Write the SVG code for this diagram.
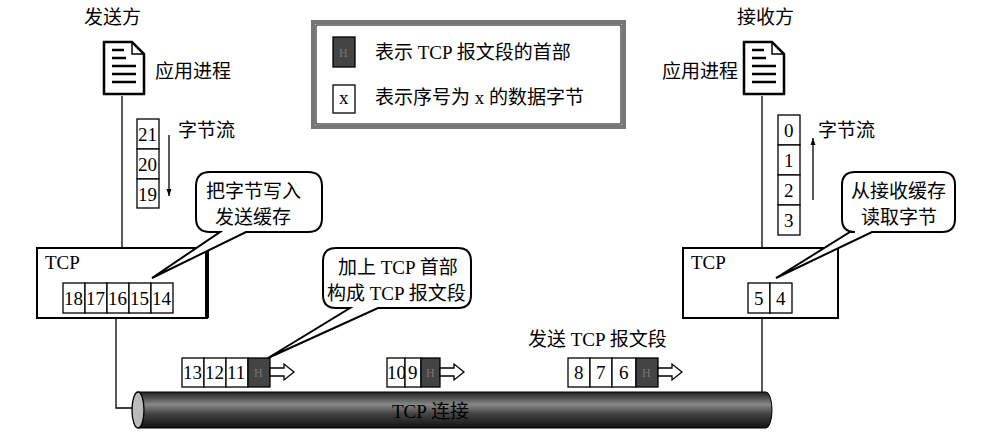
<svg xmlns="http://www.w3.org/2000/svg" width="982" height="441" viewBox="0 0 982 441">
<defs>
<style>
text{font-family:"Liberation Serif","Noto Sans CJK SC",serif;font-size:19px;fill:#000}
.b{fill:#fff;stroke:#000;stroke-width:1.3}
.h{fill:#444;stroke:#000;stroke-width:1.3}
.ht{font-size:12px;fill:#777}
.ln{fill:none;stroke:#000;stroke-width:1.3}
.bub{fill:#fff;stroke:#000;stroke-width:2}
</style>
<linearGradient id="pipe" x1="0" y1="0" x2="0" y2="1">
<stop offset="0" stop-color="#222"/><stop offset="0.35" stop-color="#888"/><stop offset="0.6" stop-color="#444"/><stop offset="1" stop-color="#111"/>
</linearGradient>
<marker id="ah" markerWidth="8" markerHeight="8" refX="7" refY="4" orient="auto" viewBox="0 0 8 8" markerUnits="userSpaceOnUse"><path d="M0,1.5 L7,4 L0,6.5 Z" fill="#000"/></marker>
<symbol id="doc" viewBox="0 0 44 56"><path d="M2,2 H30 L42,14 V54 H2 Z" fill="#fff" stroke="#000" stroke-width="2.5"/><path d="M30,2 V14 H42" fill="none" stroke="#000" stroke-width="1.5"/><path d="M10,10 H22 M10,18 H24 M10,26 H34 M10,34 H34 M10,42 H34" stroke="#000" stroke-width="2.5"/></symbol>
<g id="harrow"><path d="M0,-4 H14 V-8 L24,0 L14,8 V4 H0 Z" fill="#fff" stroke="#000" stroke-width="1.3"/></g>
</defs>
<rect width="982" height="441" fill="#fff"/>

<g id="connectors">
<path class="ln" d="M122,96 V248"/>
<path class="ln" d="M762,96 V248"/>
<path class="ln" d="M116,318 V408 H134"/>
<path class="ln" d="M762,318 V408 H772"/>
<path class="ln" d="M169,135 V196" marker-end="url(#ah)"/>
<path class="ln" d="M813,200 V138" marker-end="url(#ah)"/>
</g>

<g id="legend">
<rect x="313" y="22" width="311" height="105" fill="#fff" stroke="#777" stroke-width="4"/>
<rect x="316" y="25" width="305" height="99" fill="none" stroke="#000" stroke-width="1"/>
<rect class="h" x="333" y="37" width="22" height="30"/><text class="ht" x="339" y="57">H</text>
<text x="375" y="59">表示 TCP 报文段的首部</text>
<rect class="b" x="333" y="85" width="22" height="28"/><text x="339" y="104" font-size="17">x</text>
<text x="375" y="104">表示序号为 x 的数据字节</text>
</g>

<g id="sender-app">
<text x="84" y="24">发送方</text>
<use href="#doc" x="102" y="40" width="44" height="56"/>
<text x="155" y="78">应用进程</text>
</g>

<g id="sender-stream">
<rect class="b" x="137" y="119" width="22" height="30"/><text x="138" y="141">21</text>
<rect class="b" x="137" y="149" width="22" height="30"/><text x="138" y="171">20</text>
<rect class="b" x="137" y="179" width="22" height="29"/><text x="138" y="201">19</text>
<text x="178" y="137">字节流</text>
</g>

<g id="sender-tcp">
<rect x="37" y="248" width="170" height="70" fill="#fff" stroke="#000" stroke-width="2"/>
<path d="M207,248 V318" stroke="#000" stroke-width="4"/>
<text x="45" y="269">TCP</text>
<rect class="b" x="63" y="283" width="22" height="30"/><text x="64" y="305">18</text>
<rect class="b" x="85" y="283" width="22" height="30"/><text x="86" y="305">17</text>
<rect class="b" x="107" y="283" width="22" height="30"/><text x="108" y="305">16</text>
<rect class="b" x="129" y="283" width="22" height="30"/><text x="130" y="305">15</text>
<rect class="b" x="151" y="283" width="22" height="30"/><text x="152" y="305">14</text>
</g>

<g id="sender-bubble">
<path class="bub" d="M210,172 H308 Q322,172 322,186 V218 Q322,232 308,232 H246 L152,278 L220,232 H210 Q196,232 196,218 V186 Q196,172 210,172 Z"/>
<text x="206" y="198">把字节写入</text>
<text x="215" y="224">发送缓存</text>
</g>

<g id="segment1">
<rect class="b" x="182" y="358" width="22" height="29"/><text x="183" y="379">13</text>
<rect class="b" x="204" y="358" width="22" height="29"/><text x="205" y="379">12</text>
<rect class="b" x="226" y="358" width="22" height="29"/><text x="227" y="379">11</text>
<rect class="h" x="248" y="358" width="22" height="29"/><text class="ht" x="254" y="377">H</text>
<use href="#harrow" x="270" y="372"/>
</g>
<g id="segment2">
<rect class="b" x="387" y="358" width="18" height="29"/><text x="387" y="379">10</text>
<rect class="b" x="405" y="358" width="16" height="29"/><text x="408" y="379">9</text>
<rect class="h" x="421" y="358" width="19" height="29"/><text class="ht" x="426" y="377">H</text>
<use href="#harrow" x="440" y="372"/>
</g>
<g id="segment3">
<text x="528" y="346">发送 TCP 报文段</text>
<rect class="b" x="568" y="358" width="22" height="29"/><text x="574" y="379">8</text>
<rect class="b" x="590" y="358" width="22" height="29"/><text x="596" y="379">7</text>
<rect class="b" x="612" y="358" width="24" height="29"/><text x="619" y="379">6</text>
<rect class="h" x="636" y="358" width="22" height="29"/><text class="ht" x="642" y="377">H</text>
<use href="#harrow" x="658" y="372"/>
</g>

<g id="middle-bubble">
<path class="bub" d="M336,248 H458 Q471,248 471,261 V295 Q471,308 458,308 H378 L268,358 L350,308 H336 Q323,308 323,295 V261 Q323,248 336,248 Z"/>
<text x="338" y="274">加上 TCP 首部</text>
<text x="327" y="300">构成 TCP 报文段</text>
</g>

<g id="pipe-conn">
<path d="M138,392 H766 A6,18 0 0 1 766,428 H138 Z" fill="url(#pipe)" stroke="#000" stroke-width="1"/>
<ellipse cx="138" cy="410" rx="6" ry="18" fill="#bbb" stroke="#000" stroke-width="1.3"/>
<text x="392" y="418" fill="#111">TCP 连接</text>
</g>

<g id="receiver-app">
<text x="737" y="24">接收方</text>
<use href="#doc" x="742" y="40" width="44" height="56"/>
<text x="662" y="78">应用进程</text>
</g>

<g id="receiver-stream">
<rect class="b" x="778" y="115" width="22" height="30"/><text x="784" y="137">0</text>
<rect class="b" x="778" y="145" width="22" height="30"/><text x="784" y="167">1</text>
<rect class="b" x="778" y="175" width="22" height="30"/><text x="784" y="197">2</text>
<rect class="b" x="778" y="205" width="22" height="30"/><text x="784" y="227">3</text>
<text x="818" y="137">字节流</text>
</g>

<g id="receiver-tcp">
<rect x="683" y="248" width="155" height="70" fill="#fff" stroke="#000" stroke-width="2"/>
<text x="691" y="269">TCP</text>
<rect class="b" x="748" y="283" width="22" height="30"/><text x="754" y="305">5</text>
<rect class="b" x="770" y="283" width="22" height="30"/><text x="776" y="305">4</text>
</g>

<g id="receiver-bubble">
<path class="bub" d="M855,172 H942 Q955,172 955,185 V219 Q955,232 942,232 H872 L776,278 L850,232 H855 Q842,232 842,219 V185 Q842,172 855,172 Z"/>
<text x="851" y="198">从接收缓存</text>
<text x="861" y="224">读取字节</text>
</g>
</svg>
